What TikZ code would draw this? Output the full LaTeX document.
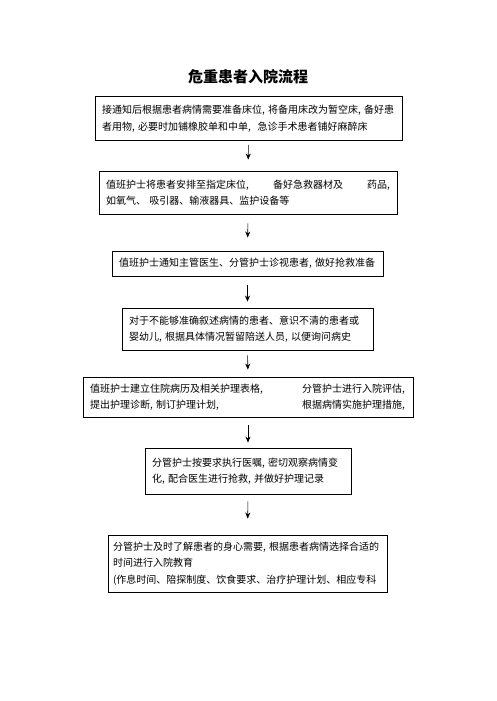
\documentclass[tikz,border=0pt]{standalone}
\usepackage{fontspec}
\setmainfont{Noto Sans CJK SC}
\usetikzlibrary{arrows.meta}
\begin{document}
\begin{tikzpicture}[x=1pt, y=-1pt, >={Stealth[length=6pt,width=5pt]},
	liucheng/.style={draw, line width=0.9pt, align=left, inner xsep=7pt, inner ysep=0pt,
		font=\fontsize{10pt}{16.5pt}\selectfont},
	jiantou/.style={->, line width=0.6pt}]
	\useasboundingbox (0,0) rectangle (496,701);
	
	% 标题
	\node[font=\fontsize{15pt}{18pt}\selectfont\bfseries] (biaoti) at (248,77) {危重患者入院流程};
	
	% 流程框
	\node[liucheng, text width=293pt, minimum height=44pt] (b1) at (248.5,118.5)
		{接通知后根据患者病情需要准备床位, 将备用床改为暂空床, 备好患\\
		 者用物, 必要时加铺橡胶单和中单,\ \ 急诊手术患者铺好麻醉床};
	\node[liucheng, text width=284pt, minimum height=43pt] (b2) at (248,192.5)
		{值班护士将患者安排至指定床位,\hfill 备好急救器材及\hfill 药品,\\
		 如氧气、 吸引器、输液器具、监护设备等};
	\node[liucheng, text width=257pt, minimum height=25pt] (b3) at (247.5,263.5)
		{值班护士通知主管医生、分管护士诊视患者, 做好抢救准备};
	\node[liucheng, text width=237pt, minimum height=42pt] (b4) at (247.5,329)
		{对于不能够准确叙述病情的患者、意识不清的患者或\\
		 婴幼儿, 根据具体情况暂留陪送人员, 以便询问病史};
	\node[liucheng, text width=316pt, minimum height=40pt] (b5) at (248,397)
		{\makebox[212pt][l]{值班护士建立住院病历及相关护理表格,}分管护士进行入院评估,\\
		 \makebox[212pt][l]{提出护理诊断, 制订护理计划,}根据病情实施护理措施,};
	\node[liucheng, text width=192pt, minimum height=46pt] (b6) at (248,471)
		{分管护士按要求执行医嘱, 密切观察病情变\\
		 化, 配合医生进行抢救, 并做好护理记录};
	\node[liucheng, inner xsep=5pt, text width=269pt, minimum height=57pt] (b7) at (247.5,563.5)
		{分管护士及时了解患者的身心需要,~根据患者病情选择合适的\\
		 时间进行入院教育\\
		 (作息时间、陪探制度、饮食要求、治疗护理计划、相应专科};
	
	% 箭头
	\draw[jiantou, shorten <=4pt, shorten >=11pt] (b1.south) -- (b2.north);
	\draw[jiantou, shorten <=9pt, shorten >=13pt] (b2.south) -- (b3.north);
	\draw[jiantou, shorten <=9pt, shorten >=6pt] (b3.south) -- (b4.north);
	\draw[jiantou, shorten <=5pt, shorten >=7pt] (b4.south) -- (b5.north);
	\draw[jiantou, shorten <=8pt, shorten >=5pt] (b5.south) -- (b6.north);
	\draw[jiantou, shorten <=7pt, shorten >=16pt] (b6.south) -- (b7.north);
\end{tikzpicture}
\end{document}
